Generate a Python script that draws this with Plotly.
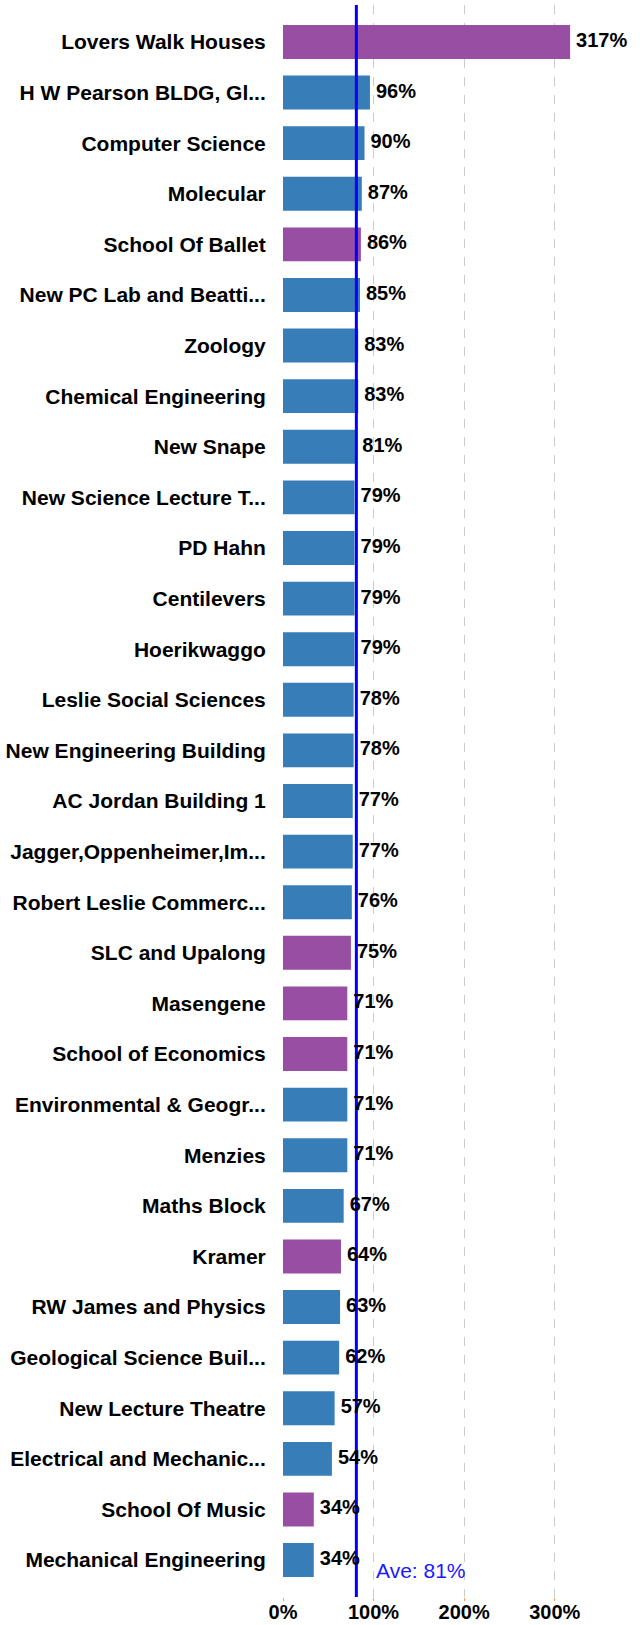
import plotly.graph_objects as go

buildings = [
    "Lovers Walk Houses", "H W Pearson BLDG, Gl...", "Computer Science", "Molecular",
    "School Of Ballet", "New PC Lab and Beatti...", "Zoology", "Chemical Engineering",
    "New Snape", "New Science Lecture T...", "PD Hahn", "Centilevers", "Hoerikwaggo",
    "Leslie Social Sciences", "New Engineering Building", "AC Jordan Building 1",
    "Jagger,Oppenheimer,Im...", "Robert Leslie Commerc...", "SLC and Upalong", "Masengene",
    "School of Economics", "Environmental & Geogr...", "Menzies", "Maths Block", "Kramer",
    "RW James and Physics", "Geological Science Buil...", "New Lecture Theatre",
    "Electrical and Mechanic...", "School Of Music", "Mechanical Engineering",
]
values = [317, 96, 90, 87, 86, 85, 83, 83, 81, 79, 79, 79, 79, 78, 78, 77, 77, 76, 75,
          71, 71, 71, 71, 67, 64, 63, 62, 57, 54, 34, 34]
groups = ["res", "acad", "acad", "acad", "res", "acad", "acad", "acad", "acad", "acad",
          "acad", "acad", "acad", "acad", "acad", "acad", "acad", "acad", "res", "res",
          "res", "acad", "acad", "acad", "res", "acad", "acad", "acad", "acad", "res", "acad"]
average = 81
x_ticks = [0, 100, 200, 300]

group_colors = {"acad": "#377eb8", "res": "#984ea3"}
FONT = "Liberation Sans, Arial, sans-serif"

n = len(buildings)
idx = list(range(n))
pad = 0.73
y_range = [n - 1 + pad, -pad]

fig = go.Figure()
fig.add_trace(go.Bar(
    x=values, y=idx, orientation="h",
    marker=dict(color=[group_colors[g] for g in groups], line=dict(width=0)),
    width=0.67, hoverinfo="x+y", showlegend=False,
))
fig.add_trace(go.Scatter(
    x=[average, average], y=[y_range[1], y_range[0]], mode="lines",
    line=dict(color="#0000ff", width=3), showlegend=False, hoverinfo="skip",
    cliponaxis=False,
))
fig.add_trace(go.Scatter(
    x=values, y=idx, mode="markers+text", text=[f"{v}%" for v in values],
    textposition="middle right",
    marker=dict(size=8, color="rgba(0,0,0,0)"),
    textfont=dict(family=FONT, size=20, color="#000000", weight="bold"),
    cliponaxis=False, showlegend=False, hoverinfo="skip",
))

fig.add_annotation(
    x=average, y=0, xref="x", yref="paper", text=f"Ave: {average}%",
    showarrow=False, xanchor="left", yanchor="bottom", xshift=18, yshift=13,
    font=dict(family=FONT, size=21, color="#1a1aff"),
)

fig.update_layout(
    width=640, height=1625,
    margin=dict(l=283, r=40, t=5, b=28, autoexpand=False),
    plot_bgcolor="white", paper_bgcolor="white",
    font=dict(family=FONT, size=20, color="#000000"),
    bargap=0.33,
)
fig.update_xaxes(
    range=[0, 350], tickvals=x_ticks, ticktext=[f"{t}%" for t in x_ticks],
    showgrid=True, gridcolor="#cccccc", griddash="dash", gridwidth=1,
    zeroline=False, showline=False, automargin=False,
    ticks="outside", ticklen=3, tickcolor="#f5a050", ticklabelstandoff=-6,
    tickfont=dict(family=FONT, size=20, color="#000000", weight="bold"),
)
fig.update_yaxes(
    range=y_range, tickvals=idx, ticktext=buildings,
    showgrid=False, zeroline=False, showline=False, automargin=False,
    ticks="outside", ticklen=12, tickcolor="rgba(0,0,0,0)",
    tickfont=dict(family=FONT, size=21, color="#000000", weight="bold"),
)

fig.write_html(
    "out.html",
    config={"displayModeBar": False},
    post_script="document.body.style.margin='0';document.body.style.overflow='hidden';",
)
